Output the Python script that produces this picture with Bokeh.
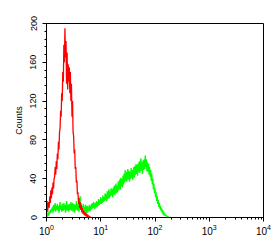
import numpy as np
from bokeh.plotting import figure
from bokeh.models import Range1d, LogTicker, SingleIntervalTicker
from bokeh.embed import file_html
from bokeh.resources import INLINE

# histogram channels: log10 position step (decades)
bin_step = 0.01

red_counts = [
    3, 17, 6, 12, 16, 10, 22, 15, 28, 20,
    31, 24, 36, 30, 40, 42, 52, 44, 58, 50,
    66, 60, 78, 70, 88, 92, 110, 104, 128, 120,
    150, 140, 178, 160, 195, 165, 182, 138, 170, 132,
    158, 140, 155, 128, 150, 120, 138, 104, 120, 88,
    84, 66, 70, 50, 52, 36, 38, 24, 26, 14,
    20, 10, 16, 8, 13, 6, 10, 4, 7, 3,
    6, 2, 5, 1, 4, 0, 3, 1, 2, 0,
    1, 0, 0,
]

green_counts = [
    0, 3, 1, 5, 2, 6, 4, 8, 5, 9,
    7, 11, 5, 13, 7, 10, 15, 6, 12, 8,
    14, 7, 12, 5, 11, 16, 8, 12, 6, 14,
    9, 7, 15, 8, 13, 5, 11, 17, 7, 11,
    13, 6, 14, 9, 8, 16, 7, 12, 15, 6,
    10, 14, 5, 13, 8, 17, 10, 7, 14, 9,
    6, 13, 22, 8, 15, 5, 12, 7, 14, 4,
    11, 6, 13, 4, 10, 12, 5, 11, 7, 13,
    6, 12, 8, 14, 9, 15, 10, 16, 11, 9,
    15, 10, 17, 11, 16, 12, 19, 13, 18, 14,
    21, 14, 19, 15, 23, 16, 21, 17, 25, 18,
    24, 17, 27, 19, 25, 29, 20, 27, 22, 30,
    23, 29, 21, 31, 24, 33, 23, 30, 35, 25,
    33, 26, 37, 28, 35, 39, 29, 41, 32, 40,
    31, 43, 34, 45, 36, 49, 38, 47, 37, 46,
    50, 39, 48, 37, 47, 40, 51, 41, 49, 39,
    48, 52, 41, 53, 44, 55, 45, 54, 43, 56,
    47, 58, 46, 56, 61, 48, 57, 45, 59, 49,
    60, 50, 64, 52, 60, 48, 57, 47, 55, 44,
    52, 42, 49, 38, 45, 34, 40, 29, 35, 25,
    30, 21, 26, 17, 22, 14, 18, 11, 15, 9,
    12, 7, 10, 5, 8, 3, 6, 2, 4, 2,
    3, 1, 2, 0, 1, 0, 0, 0, 0, 0,
]

y_ticks_interval = 40
y_label = "Counts"

red_x = 10 ** (np.arange(len(red_counts)) * bin_step)
green_x = 10 ** (np.arange(len(green_counts)) * bin_step)

p = figure(width=275, height=245, x_axis_type="log",
           x_range=Range1d(1, 10000), y_range=Range1d(0, 200),
           output_backend="svg", toolbar_location=None,
           min_border_left=46, min_border_right=12,
           min_border_top=23, min_border_bottom=28,
           background_fill_color="white", border_fill_color="white")

p.line(green_x, green_counts, line_color="#00ff00", line_width=1.3)
p.line(red_x, red_counts, line_color="#ff0000", line_width=1.3)

p.xgrid.visible = False
p.ygrid.visible = False
p.outline_line_color = "black"
p.outline_line_alpha = 1
p.outline_line_width = 1

p.xaxis.ticker = LogTicker(num_minor_ticks=10)
p.yaxis.ticker = SingleIntervalTicker(interval=y_ticks_interval, num_minor_ticks=5)

for ax in (p.xaxis[0], p.yaxis[0]):
    ax.axis_line_color = "black"
    ax.major_tick_line_color = "black"
    ax.minor_tick_line_color = "black"
    ax.major_tick_in = 0
    ax.major_tick_out = 4
    ax.minor_tick_in = 0
    ax.minor_tick_out = 2
    ax.major_label_text_color = "black"
    ax.major_label_text_font = "Liberation Sans"

p.xaxis.major_label_text_font_size = "10px"
p.xaxis.major_label_standoff = 2
p.yaxis.major_label_text_font_size = "9px"
p.yaxis.major_label_orientation = "vertical"
p.yaxis.major_label_standoff = 6
p.yaxis.axis_label = y_label
p.yaxis.axis_label_text_font = "Liberation Sans"
p.yaxis.axis_label_text_font_size = "9px"
p.yaxis.axis_label_text_font_style = "normal"
p.yaxis.axis_label_text_color = "black"
p.yaxis.axis_label_standoff = 4

open("out.html", "w").write(file_html(p, INLINE))
